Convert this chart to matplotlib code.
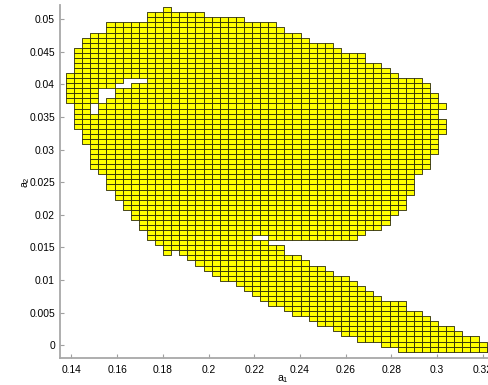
import matplotlib
matplotlib.use("Agg")
from matplotlib import pyplot as plt

plt.rcParams['font.family'] = ['Liberation Sans', 'DejaVu Sans']
plt.rcParams['mathtext.fontset'] = 'custom'
plt.rcParams['mathtext.rm'] = 'Liberation Sans'
plt.rcParams['mathtext.it'] = 'Liberation Sans:italic'

# paving resolution (box size) and origin of the box grid
a1_origin = 0.1376
a1_step = 0.00354
a2_origin = -0.00098
a2_step = 0.000777

# boxes per row, top row first: index of first box and end index (exclusive)
row_first = [12, 10, 10, 5, 5, 3, 2, 2, 1, 1,
             1, 1, 1, 0, 0, 0, 0, 0, 0, 1,
             1, 1, 1, 1, 2, 2, 2, 3, 3, 3,
             3, 3, 4, 5, 5, 5, 6, 6, 7, 7,
             8, 8, 9, 9, 10, 10, 11, 12, 12, 15,
             16, 17, 18, 19, 21, 22, 23, 24, 25, 27,
             28, 30, 31, 33, 34, 36, 39, 41]
row_end = [13, 17, 22, 26, 27, 29, 30, 33, 34, 37,
           37, 39, 40, 41, 44, 45, 45, 46, 46, 47,
           46, 46, 47, 47, 47, 46, 46, 46, 46, 45,
           45, 45, 44, 43, 43, 43, 43, 42, 42, 42,
           41, 40, 40, 39, 37, 36, 25, 27, 27, 29,
           30, 32, 33, 35, 36, 37, 38, 39, 42, 42,
           44, 45, 46, 48, 49, 51, 52, 54]
# empty boxes inside a row: (row, first, end)
holes = [(14, 7, 10), (15, 6, 8), (16, 4, 6), (17, 4, 6), (18, 4, 5),
         (19, 3, 4), (20, 3, 4), (45, 23, 25), (48, 13, 14)]

x_ticks = [0.14, 0.16, 0.18, 0.2, 0.22, 0.24, 0.26, 0.28, 0.3, 0.32]
y_ticks = [0, 0.005, 0.01, 0.015, 0.02, 0.025, 0.03, 0.035, 0.04, 0.045, 0.05]

fig = plt.figure(figsize=(4.89, 3.85), dpi=100)
ax = fig.add_axes([60 / 489, 26.7 / 385, 446 / 489, 353.3 / 385])

n_rows = len(row_first)
for r in range(n_rows):
    skip = set()
    for hr, h0, h1 in holes:
        if hr == r:
            skip.update(range(h0, h1))
    cells = [i for i in range(row_first[r], row_end[r]) if i not in skip]
    y = a2_origin + (n_rows - 1 - r) * a2_step
    ax.broken_barh([(a1_origin + i * a1_step, a1_step) for i in cells],
                   (y, a2_step), facecolors='#ffff00',
                   edgecolors='#2a2a08', linewidth=0.6)

ax.set_xlim(0.13497, 0.33016)
ax.set_ylim(-0.001994, 0.05219)
ax.set_xticks(x_ticks)
ax.set_xticklabels(['%g' % v for v in x_ticks])
ax.set_yticks(y_ticks)
ax.set_yticklabels(['%g' % v for v in y_ticks])

for s in ['top', 'right']:
    ax.spines[s].set_visible(False)
for s in ['left', 'bottom']:
    ax.spines[s].set_color('#a8a8a8')
    ax.spines[s].set_linewidth(1.3)
ax.tick_params(axis='both', direction='in', length=3, color='#a0a0a0',
               labelsize=7.4, labelcolor='black')
ax.tick_params(axis='x', pad=4.5)
ax.tick_params(axis='y', pad=3.6)

ax.set_xlabel('a$_1$', fontsize=7.6)
ax.set_ylabel('a$_2$', fontsize=7.6)
ax.xaxis.set_label_coords(0.5, -0.042)
ax.yaxis.set_label_coords(-0.062, 0.5)

fig.savefig('out.png', dpi=100)
